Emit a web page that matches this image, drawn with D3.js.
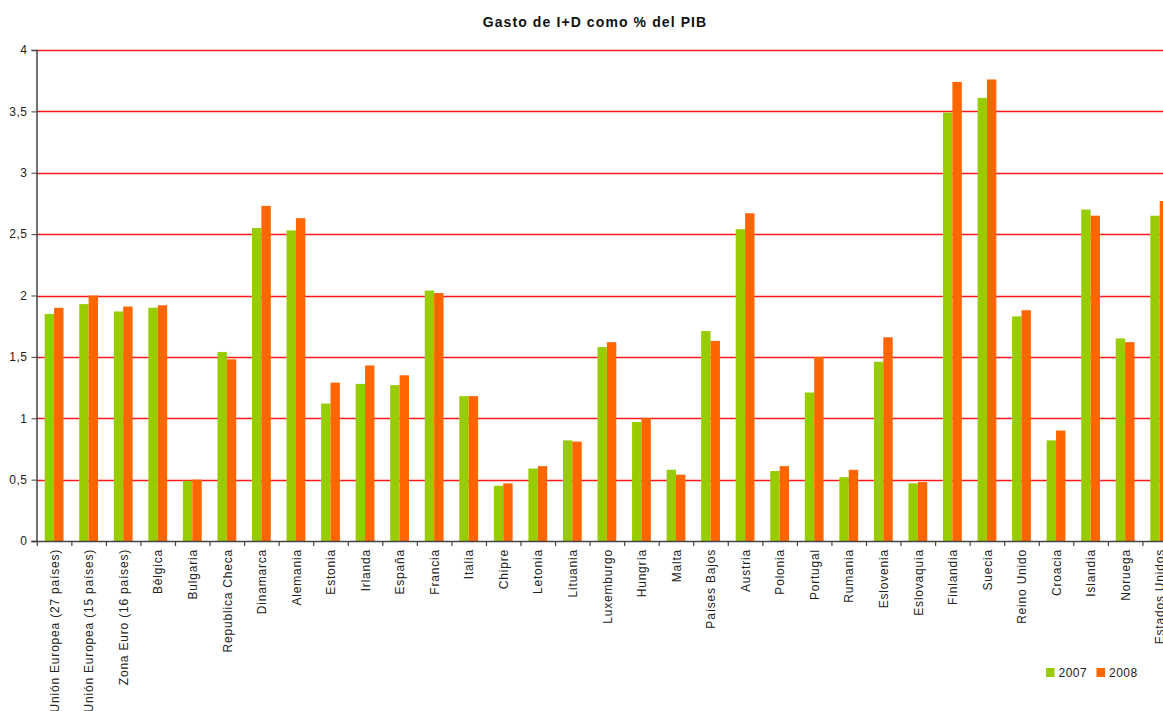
<!DOCTYPE html>
<html>
<head>
<meta charset="utf-8">
<script src="https://cdn.jsdelivr.net/npm/d3@7"></script>
<style>
  html, body { margin: 0; padding: 0; background: #ffffff; overflow: hidden; }
  svg { display: block; font-family: "Liberation Sans", Arial, sans-serif; }
</style>
</head>
<body>
<svg id="chart" width="1163" height="711"></svg>
<script>
const categories = [
  "Unión Europea (27 países)", "Unión Europea (15 países)", "Zona Euro (16 países)",
  "Bélgica", "Bulgaria", "Republica Checa", "Dinamarca", "Alemania", "Estonia",
  "Irlanda", "España", "Francia", "Italia", "Chipre", "Letonia", "Lituania",
  "Luxemburgo", "Hungría", "Malta", "Países Bajos", "Austria", "Polonia",
  "Portugal", "Rumania", "Eslovenia", "Eslovaquia", "Finlandia", "Suecia",
  "Reino Unido", "Croacia", "Islandia", "Noruega", "Estados Unidos"
];
const values2007 = [
  1.85, 1.93, 1.87, 1.90, 0.49, 1.54, 2.55, 2.53, 1.12,
  1.28, 1.27, 2.04, 1.18, 0.45, 0.59, 0.82,
  1.58, 0.97, 0.58, 1.71, 2.54, 0.57,
  1.21, 0.52, 1.46, 0.47, 3.49, 3.61,
  1.83, 0.82, 2.70, 1.65, 2.65
];
const values2008 = [
  1.90, 2.00, 1.91, 1.92, 0.50, 1.48, 2.73, 2.63, 1.29,
  1.43, 1.35, 2.02, 1.18, 0.47, 0.61, 0.81,
  1.62, 1.00, 0.54, 1.63, 2.67, 0.61,
  1.50, 0.58, 1.66, 0.48, 3.74, 3.76,
  1.88, 0.90, 2.65, 1.62, 2.77
];
const seriesNames = ["2007", "2008"];
const seriesColors = ["#99CC00", "#FF6600"];
const yTicks = [0, 0.5, 1, 1.5, 2, 2.5, 3, 3.5, 4];
const chartTitle = "Gasto de I+D como % del PIB";

const svg = d3.select("#chart");
const W = 1163;
const plotLeft = 36.5, plotBottom = 541, plotTop = 50;
const bandW = 34.55;

const x = d3.scaleBand().domain(categories)
  .range([37.3, 37.3 + bandW * categories.length]).padding(0);
const x1 = d3.scaleBand().domain(seriesNames).range([7.4, 26.2]).padding(0);
const y = d3.scaleLinear().domain([0, 4]).range([plotBottom, plotTop]);

const loc = d3.formatLocale({decimal: ",", thousands: ".", grouping: [3], currency: ["", "€"]});
const fmt = v => loc.format("~g")(v);

// gridlines
svg.append("g").selectAll("line").data(yTicks.filter(d => d > 0)).join("line")
  .attr("x1", plotLeft).attr("x2", W)
  .attr("y1", d => Math.round(y(d)) + 0.5).attr("y2", d => Math.round(y(d)) + 0.5)
  .attr("stroke", "#ff1a1a").attr("stroke-width", 1.3);

// bars
const data = categories.map((c, i) => ({c, vals: [values2007[i], values2008[i]]}));
const groups = svg.append("g").selectAll("g").data(data).join("g")
  .attr("transform", d => `translate(${x(d.c)},0)`);
groups.selectAll("rect").data(d => d.vals.map((v, k) => ({v, k}))).join("rect")
  .attr("x", d => x1(seriesNames[d.k]))
  .attr("width", x1.bandwidth())
  .attr("y", d => y(d.v))
  .attr("height", d => y(0) - y(d.v))
  .attr("fill", d => seriesColors[d.k]);

// y axis
const yAxis = d3.axisLeft(y).tickValues(yTicks).tickFormat(fmt).tickSize(5).tickPadding(4);
const gy = svg.append("g").attr("transform", `translate(${plotLeft},0)`).call(yAxis);
gy.select(".domain").attr("stroke", "#444").attr("stroke-width", 1.5);
gy.selectAll(".tick line").attr("stroke", "#444");
gy.selectAll("text").attr("font-size", 12).attr("fill", "#222")
  .attr("font-family", "Liberation Sans, Arial, sans-serif").style("letter-spacing", "0.5px");

// x axis line
svg.append("line").attr("x1", plotLeft - 5).attr("x2", W)
  .attr("y1", plotBottom + 0.5).attr("y2", plotBottom + 0.5)
  .attr("stroke", "#444").attr("stroke-width", 1.5);
const boundaries = categories.map(c => x(c)).concat([x(categories[categories.length - 1]) + x.bandwidth()]);
svg.append("g").selectAll("line").data(boundaries).join("line")
  .attr("x1", d => d).attr("x2", d => d)
  .attr("y1", plotBottom).attr("y2", plotBottom + 5)
  .attr("stroke", "#444").attr("stroke-width", 1.2);

// category labels
const xAxis = d3.axisBottom(x).tickSize(0).tickPadding(0);
const gx = svg.append("g").attr("transform", `translate(0,${plotBottom})`).call(xAxis);
gx.select(".domain").remove();
gx.selectAll(".tick text")
  .attr("font-size", 12).attr("fill", "#222")
  .attr("font-family", "Liberation Sans, Arial, sans-serif")
  .style("letter-spacing", "0.8px")
  .attr("text-anchor", "end")
  .attr("transform", "translate(0,8) rotate(-90)")
  .attr("x", 0).attr("y", 0).attr("dy", "0.35em");

// title
svg.append("text").attr("x", 595).attr("y", 27)
  .attr("text-anchor", "middle").attr("font-size", 14).attr("font-weight", "bold")
  .style("letter-spacing", "1.1px").attr("fill", "#111").text(chartTitle);

// legend
const legX = [1046, 1096.5];
const leg = svg.append("g").selectAll("g").data(seriesNames).join("g")
  .attr("transform", (d, i) => `translate(${legX[i]},668)`);
leg.append("rect").attr("width", 8.5).attr("height", 9).attr("fill", (d, i) => seriesColors[i]);
leg.append("text").attr("x", 12.5).attr("y", 9).attr("font-size", 12)
  .style("letter-spacing", "0.5px").attr("fill", "#222").text(d => d);
</script>
</body>
</html>
